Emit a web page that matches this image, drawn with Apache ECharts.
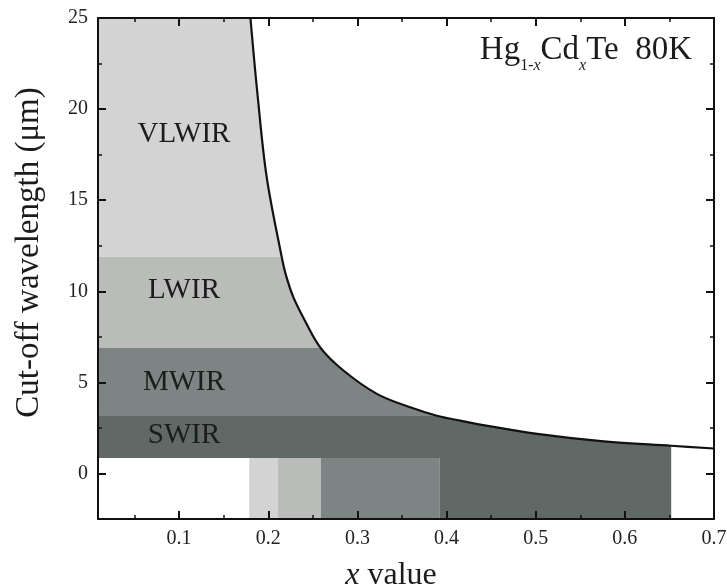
<!DOCTYPE html>
<html>
<head>
<meta charset="utf-8">
<script src="https://cdn.jsdelivr.net/npm/echarts@6/dist/echarts.min.js"></script>
<style>
html, body { margin: 0; background: #fff; }
#chart { width: 727px; height: 588px; }
</style>
</head>
<body>
<div id="chart"></div>
<script>
// cut-off curve
const curveX = [0.1800, 0.1878, 0.1982, 0.2151, 0.2199, 0.2281, 0.2410, 0.2589, 0.2843,
                0.3218, 0.3592, 0.3892, 0.4153, 0.4378, 0.5016, 0.5764, 0.6520, 0.7000];
const curveY = [25.0, 20.87, 16.28, 11.88, 10.87, 9.68, 8.40, 6.88, 5.65,
                4.37, 3.63, 3.17, 2.90, 2.68, 2.17, 1.76, 1.52, 1.37];

// bands (wavelength ranges) and the matching x ranges of the bottom strip
const bandNames = ['VLWIR', 'LWIR', 'MWIR', 'SWIR'];
const bandLow = [11.9, 6.9, 3.2, 0.85];
const bandHigh = [25, 11.9, 6.9, 3.2];
const bandXStart = [0.1787, 0.2106, 0.2589, 0.392];
const bandXEnd = [0.2106, 0.2589, 0.392, 0.652];
const bandLabelY = [18.6, 10.05, 5.0, 2.07];

const xMin = 0.009, xMax = 0.7;
const yMin = -2.5, yMax = 25;
const bandColors = ['#d3d3d3', '#babcb9', '#7c8584', '#606965'];
const serif = '"Liberation Serif", "DejaVu Serif", serif';
const ink = '#1c1c1c';

const chart = echarts.init(document.getElementById('chart'));

function renderBand(params, api) {
    const i = api.value(0);
    // band fills the whole width, the white area above the curve cuts it
    const right = i === 3 ? bandXEnd[3] : xMax;
    const b0 = api.coord([xMin, bandHigh[i]]);
    const b1 = api.coord([right, bandLow[i]]);
    const s0 = api.coord([bandXStart[i], bandLow[3]]);
    const s1 = api.coord([bandXEnd[i], yMin]);
    const c = api.coord([0.1055, bandLabelY[i]]);
    return {
        type: 'group',
        children: [
            { type: 'rect', shape: { x: b0[0], y: b0[1], width: b1[0] - b0[0], height: b1[1] - b0[1] },
              style: { fill: bandColors[i] } },
            { type: 'rect', shape: { x: s0[0], y: s0[1], width: s1[0] - s0[0], height: s1[1] - s0[1] },
              style: { fill: bandColors[i] } },
            { type: 'text', x: c[0], y: c[1], z2: 10,
              style: { text: bandNames[i], fill: ink, fontSize: 29, fontFamily: serif,
                       align: 'center', verticalAlign: 'middle' } }
        ]
    };
}

const axisLine = { show: true, onZero: false, lineStyle: { color: '#111', width: 2 } };
const tick = { show: true, inside: true, length: 8, lineStyle: { color: '#111', width: 2 } };
const minor = { show: true, splitNumber: 2, length: 4, lineStyle: { color: '#111', width: 1.5 } };

const option = {
    animation: false,
    title: {
        text: '{a|Hg}{s|1-}{si|x}{a|Cd}{si|x}{a|Te  80K}',
        right: 30,
        top: 21,
        textStyle: {
            fontWeight: 'normal',
            rich: {
                a: { fontSize: 33, fontFamily: serif, fontWeight: 'normal', color: ink, lineHeight: 48, verticalAlign: 'middle' },
                s: { fontSize: 16, fontFamily: serif, fontWeight: 'normal', color: ink, lineHeight: 48, verticalAlign: 'bottom' },
                si: { fontSize: 16, fontFamily: serif, fontWeight: 'normal', fontStyle: 'italic', color: ink, lineHeight: 48, verticalAlign: 'bottom' }
            }
        }
    },
    grid: { left: 98, right: 13, top: 18, bottom: 69, outerBoundsMode: 'none', containLabel: false },
    xAxis: [{
        type: 'value', position: 'bottom', min: xMin, max: xMax, z: 10,
        minInterval: 0.1, maxInterval: 0.1,
        name: '{i|x}{t| value}', nameLocation: 'middle', nameGap: 41,
        nameTextStyle: {
            padding: [0, 30, 0, 0],
            rich: {
                i: { fontSize: 32, fontFamily: serif, fontStyle: 'italic', color: ink },
                t: { fontSize: 32, fontFamily: serif, color: ink }
            }
        },
        axisLine: axisLine, axisTick: tick, minorTick: minor, splitLine: { show: false },
        axisLabel: { showMinLabel: false, margin: 10, fontSize: 20, fontFamily: serif, color: '#222' }
    }, {
        type: 'value', position: 'top', min: xMin, max: xMax, z: 10,
        minInterval: 0.1, maxInterval: 0.1,
        axisLine: axisLine, axisTick: tick, minorTick: minor, splitLine: { show: false },
        axisLabel: { show: false }
    }],
    yAxis: [{
        type: 'value', position: 'left', min: yMin, max: yMax, z: 10,
        minInterval: 5, maxInterval: 5,
        name: 'Cut-off wavelength (μm)', nameLocation: 'middle', nameGap: 52,
        nameTextStyle: { fontSize: 33, fontFamily: serif, color: ink, padding: [0, 0, 0, 32] },
        axisLine: axisLine, axisTick: tick, minorTick: minor, splitLine: { show: false },
        axisLabel: { showMinLabel: false, margin: 10, fontSize: 20, fontFamily: serif, color: '#222' }
    }, {
        type: 'value', position: 'right', min: yMin, max: yMax, z: 10,
        minInterval: 5, maxInterval: 5,
        axisLine: axisLine, axisTick: tick, minorTick: minor, splitLine: { show: false },
        axisLabel: { show: false }
    }],
    series: [{
        type: 'custom',
        xAxisIndex: 0, yAxisIndex: 0,
        clip: true,
        renderItem: renderBand,
        data: bandNames.map((n, i) => [i]),
        z: 1
    }, {
        type: 'line',
        xAxisIndex: 0, yAxisIndex: 0,
        data: curveX.map((x, i) => [x, curveY[i]]),
        showSymbol: false,
        smooth: 0.35,
        lineStyle: { color: '#111', width: 2.2 },
        areaStyle: { color: '#fff', opacity: 1, origin: 'end' },
        clip: true,
        z: 3
    }]
};
chart.setOption(option);
</script>
</body>
</html>
